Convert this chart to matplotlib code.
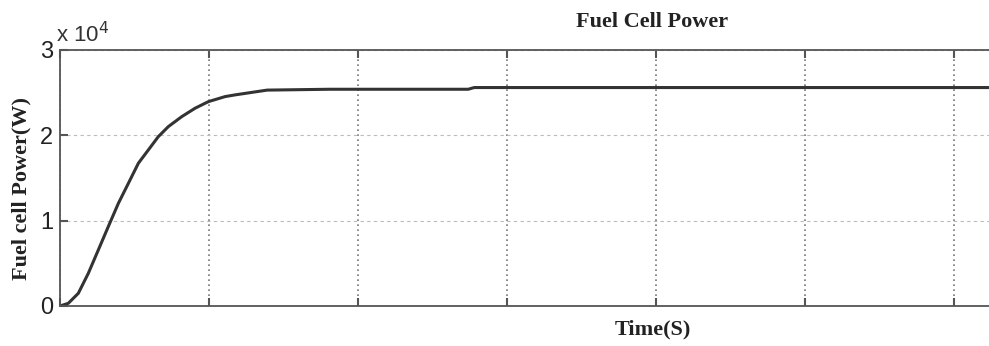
import matplotlib
matplotlib.use("Agg")
import matplotlib.pyplot as plt

# time axis in grid units (no tick labels shown on the original)
time = [0, 0.056, 0.123, 0.190, 0.257, 0.324, 0.392, 0.459, 0.526, 0.593, 0.660,
        0.727, 0.817, 0.907, 0.996, 1.108, 1.175, 1.39, 1.81, 2.74, 2.78, 7.0]
# fuel cell power in W
power = [0, 320, 1490, 3830, 6560, 9300, 12040, 14380, 16730, 18290, 19850,
         21020, 22190, 23180, 23950, 24540, 24740, 25300, 25400, 25400, 25600, 25600]

y_ticks = [0, 10000, 20000, 30000]
y_tick_labels = ["0", "1", "2", "3"]
x_ticks = [0, 1, 2, 3, 4, 5, 6, 7]

fig = plt.figure(figsize=(9.89, 3.46), dpi=100)
ax = fig.add_axes([60 / 989, 40 / 346, 1043 / 989, 256 / 346])

ax.plot(time, power, color="#333333", linewidth=2.2, solid_joinstyle="round")

ax.set_xlim(0, 7)
ax.set_ylim(0, 30000)
ax.set_xticks(x_ticks)
ax.set_xticklabels([])
ax.set_yticks(y_ticks)
ax.set_yticklabels(y_tick_labels, fontname="Liberation Sans", fontsize=17, color="#222222")
ax.tick_params(direction="in", length=6, width=1.5, top=True, right=True, colors="#555555",
               labelcolor="#222222", pad=5)
ax.grid(True, axis="x", linestyle=(0, (1, 2)), color="#777777", linewidth=1.2)
ax.grid(True, axis="y", linestyle=(0, (3, 3)), color="#bbbbbb", linewidth=0.8)
for s in ax.spines.values():
    s.set_color("#555555")
    s.set_linewidth(1.3)

fig.text(652 / 989, 1 - 22 / 346, "Fuel Cell Power", ha="center", va="center",
         fontname="Liberation Serif", fontweight="bold", fontsize=16, color="#222222")
fig.text(653 / 989, 1 - 329 / 346, "Time(S)", ha="center", va="center",
         fontname="Liberation Serif", fontweight="bold", fontsize=16, color="#222222")
fig.text(21 / 989, 1 - 188 / 346, "Fuel cell Power(W)", ha="center", va="center", rotation=90,
         fontname="Liberation Serif", fontweight="bold", fontsize=16, color="#222222")
fig.text(56 / 989, 1 - 35 / 346, r"x 10$^4$", ha="left", va="center",
         fontname="Liberation Sans", fontsize=16, color="#333333")

fig.savefig("out.png", dpi=100)
